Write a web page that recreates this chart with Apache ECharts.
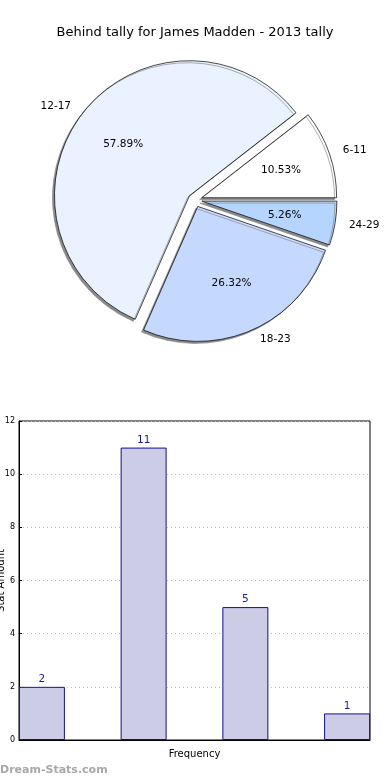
<!DOCTYPE html>
<html><head><meta charset="utf-8">
<script src="https://cdn.jsdelivr.net/npm/echarts@6/dist/echarts.min.js"></script>
<style>html,body{margin:0;padding:0;background:#fff}#c{width:390px;height:780px}</style>
</head><body><div id="c"></div>
<script>
const categories = ['6-11', '12-17', '18-23', '24-29'];
const counts = [2, 11, 5, 1];
const pieColors = ['#ffffff', '#eaf1ff', '#c5d9ff', '#b5d5ff'];
const yTicks = [0, 2, 4, 6, 8, 10, 12];
const titleText = 'Behind tally for James Madden - 2013 tally';

const chart = echarts.init(document.getElementById('c'), null, {renderer: 'canvas'});
const R = 135, C = [195, 200];
const barUnitWidth = 0.45;

const pieData = categories.map((n, i) => ({
  name: n, value: counts[i], selected: true,
  itemStyle: {color: pieColors[i]}
}));
const pctData = categories.map((n, i) => ({name: n, value: counts[i], selected: true}));

chart.setOption({
  animation: false,
  title: {text: titleText, left: 'center', top: 21,
    textStyle: {fontFamily: 'DejaVu Sans', fontSize: 13, fontWeight: 'normal', color: '#000'}},
  graphic: [{type: 'text', left: 0, top: 765,
    style: {text: 'Dream-Stats.com', fontFamily: 'DejaVu Sans', fontSize: 11, fontWeight: 'bold', fill: '#a8a8a8'}}],
  grid: {left: 19, right: 20, top: 421, bottom: 40, outerBoundsMode: 'none', containLabel: false,
    show: true, borderColor: '#000', borderWidth: 1, backgroundColor: 'transparent'},
  xAxis: {type: 'value', min: 0, max: 3.45, axisLabel: {show: false}, axisTick: {show: false}, splitLine: {show: false},
    axisLine: {lineStyle: {color: '#000'}},
    name: 'Frequency', nameLocation: 'middle', nameGap: 9,
    nameTextStyle: {fontFamily: 'DejaVu Sans', fontSize: 10, color: '#000'}},
  yAxis: {type: 'value', min: 0, max: 12, interval: 2,
    axisLine: {show: true, lineStyle: {color: '#000'}},
    axisTick: {show: true, inside: true, length: 3, lineStyle: {color: '#000'}},
    axisLabel: {fontFamily: 'DejaVu Sans', fontSize: 8, color: '#000', margin: 4},
    splitLine: {show: true, lineStyle: {color: '#bbbbbb', type: [1, 3]}},
    name: 'Stat Amount', nameLocation: 'middle', nameGap: 13, nameMoveOverlap: false,
    nameTextStyle: {fontFamily: 'DejaVu Sans', fontSize: 10, color: '#000'}},
  series: [
    {
      type: 'pie', center: C, radius: [0, R], startAngle: 0, clockwise: false,
      selectedMode: 'multiple', selectedOffset: 7, avoidLabelOverlap: false,
      data: pieData,
      itemStyle: {borderColor: '#000', borderWidth: 0.7, shadowColor: '#8a8a8a', shadowOffsetX: -2, shadowOffsetY: 2, shadowBlur: 0},
      label: {show: true, position: 'outside', formatter: '{b}', fontFamily: 'DejaVu Sans', fontSize: 10.5, color: '#000', distanceToLabelLine: 4},
      labelLine: {show: false, length: 10, length2: 0},
      emphasis: {disabled: true}, select: {disabled: false}
    },
    {
      type: 'pie', center: C, radius: [R * 0.2, R], startAngle: 0, clockwise: false,
      selectedMode: 'multiple', selectedOffset: 7, avoidLabelOverlap: false, silent: true,
      data: pctData,
      itemStyle: {color: 'rgba(0,0,0,0)', borderWidth: 0},
      label: {show: true, position: 'inside', formatter: '{d}%', fontFamily: 'DejaVu Sans', fontSize: 10.5, color: '#000'},
      labelLine: {show: false},
      emphasis: {disabled: true}
    },
    {
      type: 'bar', barWidth: 46,
      data: counts.map((v, i) => [i + barUnitWidth / 2, v]),
      itemStyle: {color: '#ccccE6', borderColor: '#11118f', borderWidth: 1},
      label: {show: true, position: 'top', distance: 2, fontFamily: 'DejaVu Sans', fontSize: 10.5, color: '#1a1aa0'}
    }
  ]
});
</script></body></html>
